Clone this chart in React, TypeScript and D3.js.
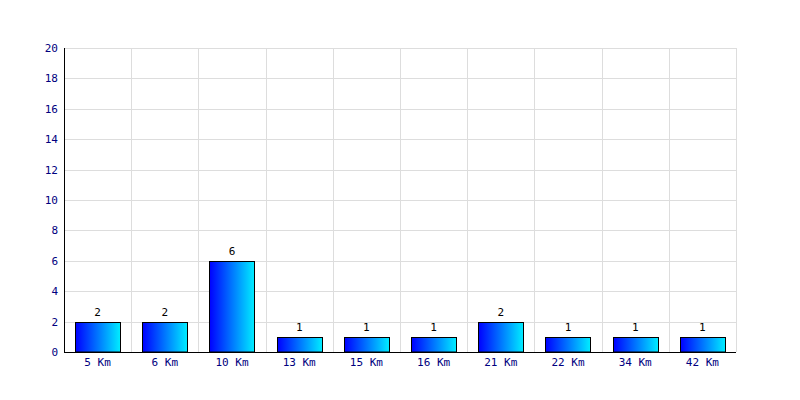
import React from "react";
import * as d3 from "d3";

const categories = ["5 Km", "6 Km", "10 Km", "13 Km", "15 Km", "16 Km", "21 Km", "22 Km", "34 Km", "42 Km"];
const values = [2, 2, 6, 1, 1, 1, 2, 1, 1, 1];
const yTicks = [0, 2, 4, 6, 8, 10, 12, 14, 16, 18, 20];

const W = 800, H = 400;
const left = 64, right = 736, top = 48, bottom = 352;
const font = "'DejaVu Sans Mono', monospace";

export default function App() {
  const x = d3.scaleBand<string>().domain(categories).range([left, right]).paddingInner(0).paddingOuter(0);
  const y = d3.scaleLinear().domain([0, 20]).range([bottom, top]);
  const bw = x.bandwidth() * 0.67;
  return (
    <svg width={W} height={H} style={{ position: "absolute", left: 0, top: 0, background: "#fff" }}>
      <defs>
        <linearGradient id="bg" x1="0" x2="1" y1="0" y2="0">
          <stop offset="0" stopColor="#0000ff" />
          <stop offset="1" stopColor="#00eeff" />
        </linearGradient>
      </defs>
      <rect x={0} y={0} width={W} height={H} fill="#fff" />
      {yTicks.map((t) => (
        <line key={"h" + t} x1={left} x2={right} y1={Math.round(y(t)) + 0.5} y2={Math.round(y(t)) + 0.5} stroke="#dddddd" />
      ))}
      {categories.map((c, i) => (
        <line key={"v" + c} x1={Math.round(x(c)! + x.bandwidth()) + 0.5} x2={Math.round(x(c)! + x.bandwidth()) + 0.5} y1={top} y2={bottom} stroke="#dddddd" />
      ))}
      {categories.map((c, i) => {
        const cx = x(c)! + x.bandwidth() / 2;
        const x0 = Math.round(cx - bw / 2) + 0.5;
        const y0 = Math.round(y(values[i])) + 0.5;
        return (
          <g key={"b" + c}>
            <rect x={x0} y={y0} width={Math.round(bw)} height={bottom - y0} fill="url(#bg)" stroke="#000" strokeWidth={1} />
            <text x={cx} y={y(values[i]) - 6} textAnchor="middle" fontFamily={font} fontSize={11} fill="#000">{values[i]}</text>
            <text x={cx} y={bottom + 14} textAnchor="middle" fontFamily={font} fontSize={11} fill="#000080">{c}</text>
          </g>
        );
      })}
      <line x1={left + 0.5} x2={left + 0.5} y1={top} y2={bottom + 1} stroke="#000" />
      <line x1={left} x2={right} y1={bottom + 0.5} y2={bottom + 0.5} stroke="#000" />
      {yTicks.map((t) => (
        <text key={"yl" + t} x={58} y={y(t) + 4} textAnchor="end" fontFamily={font} fontSize={11} fill="#000080">{t}</text>
      ))}
    </svg>
  );
}
